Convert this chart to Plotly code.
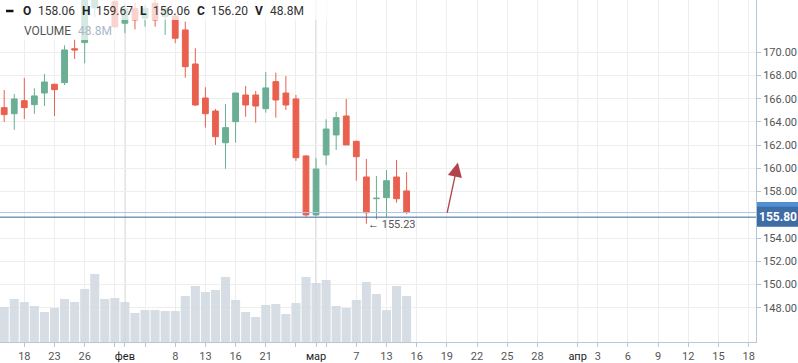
import plotly.graph_objects as go
from datetime import date

# ---------------- data ----------------
trading_days = [
    "2023-01-16", "2023-01-17", "2023-01-18", "2023-01-19", "2023-01-20",
    "2023-01-23", "2023-01-24", "2023-01-25", "2023-01-26", "2023-01-27",
    "2023-01-30", "2023-01-31", "2023-02-01", "2023-02-02", "2023-02-03",
    "2023-02-06", "2023-02-07", "2023-02-08", "2023-02-09", "2023-02-10",
    "2023-02-13", "2023-02-14", "2023-02-15", "2023-02-16", "2023-02-17",
    "2023-02-20", "2023-02-21", "2023-02-22", "2023-02-24", "2023-02-27",
    "2023-02-28", "2023-03-01", "2023-03-02", "2023-03-03", "2023-03-06",
    "2023-03-07", "2023-03-09", "2023-03-10", "2023-03-13", "2023-03-14",
    "2023-03-15",
]
opens = [165.23, 164.71, 165.83, 165.49, 166.49, 167.24, 167.38, 170.30, 170.83, 173.82,
         175.90, 174.36, 172.50, 173.79, 172.93, 174.22, 173.07, 173.13, 171.92, 168.99,
         166.06, 164.94, 162.21, 164.02, 166.32, 166.32, 165.14, 167.47, 166.49, 165.98,
         161.07, 155.99, 161.15, 162.88, 164.51, 162.33, 159.26, 157.39, 157.48, 159.26,
         158.06]
highs = [166.75, 166.41, 167.79, 166.90, 168.13, 167.30, 170.60, 171.12, 174.90, 175.60,
         176.50, 174.80, 174.20, 174.30, 174.10, 174.60, 174.00, 173.40, 172.64, 170.34,
         166.99, 165.12, 165.55, 166.49, 167.10, 166.67, 168.30, 168.24, 167.96, 166.32,
         161.15, 160.87, 164.23, 164.88, 165.98, 162.39, 160.81, 159.35, 159.86, 160.72,
         159.67]
lows = [164.00, 163.31, 164.26, 164.69, 165.37, 164.51, 167.18, 169.42, 169.05, 173.04,
        174.80, 172.07, 171.64, 171.98, 172.20, 172.20, 171.49, 170.78, 167.81, 165.37,
        163.51, 162.02, 159.97, 162.21, 164.45, 163.94, 164.80, 164.37, 165.03, 160.64,
        155.84, 155.90, 160.29, 161.58, 162.02, 158.94, 155.23, 155.62, 155.84, 157.05,
        156.06]
closes = [164.63, 165.98, 165.23, 166.24, 167.44, 166.78, 170.20, 170.20, 174.60, 175.10,
          175.00, 172.20, 173.79, 172.78, 173.79, 172.78, 173.79, 171.21, 168.76, 165.46,
          164.71, 162.73, 163.51, 166.49, 165.46, 165.37, 166.93, 165.89, 165.46, 160.92,
          155.99, 159.95, 163.39, 164.37, 162.02, 161.01, 156.18, 157.43, 158.94, 157.39,
          156.20]
volumes_m = [37.1, 45.6, 42.4, 38.2, 31.8, 36.1, 45.6, 42.4, 56.2, 72.1,
             45.6, 46.7, 42.4, 30.8, 33.9, 33.9, 32.9, 32.9, 48.8, 59.4,
             53.0, 55.2, 69.0, 44.6, 31.8, 26.5, 39.3, 40.3, 29.7, 41.4,
             69.0, 62.6, 65.8, 38.2, 36.1, 44.6, 63.7, 50.9, 33.9, 59.4,
             48.8]

x_ticks = [("2023-01-18", "18"), ("2023-01-23", "23"), ("2023-01-26", "26"),
           ("2023-01-31", ""), ("2023-02-01", "фев"), ("2023-02-03", ""),
           ("2023-02-08", "8"), ("2023-02-13", "13"), ("2023-02-16", "16"),
           ("2023-02-21", "21"), ("2023-02-27", ""), ("2023-03-01", "мар"),
           ("2023-03-02", ""), ("2023-03-07", "7"), ("2023-03-13", "13"),
           ("2023-03-16", "16"), ("2023-03-19", "19"), ("2023-03-22", "22"),
           ("2023-03-25", "25"), ("2023-03-28", "28"), ("2023-04-01", "апр"),
           ("2023-04-03", "3"), ("2023-04-06", "6"), ("2023-04-09", "9"),
           ("2023-04-12", "12"), ("2023-04-15", "15"), ("2023-04-18", "18")]
month_starts = ["2023-02-01", "2023-03-01", "2023-04-01"]
y_ticks = [148, 150, 152, 154, 158, 160, 162, 164, 166, 168, 170]
marker_price = 155.80
arrow_tail = ("2023-03-19", 156.05)
arrow_tip = ("2023-03-20", 160.5)

# ---------------- helpers ----------------
last_day = date.fromisoformat(trading_days[-1])


def to_idx(ds, frac=0.0):
    if ds in trading_days:
        return trading_days.index(ds) + frac
    return len(trading_days) - 1 + (date.fromisoformat(ds) - last_day).days + frac


idx = [to_idx(d) for d in trading_days]

PW, PH = 756.0, 342.0


def pxx(p):
    return p / PW


def pxy(p):
    return 1 - p / PH


GREEN = "#6aae93"
RED = "#e9604f"
FONT = "Roboto"

fig = go.Figure()
fig.add_trace(go.Bar(x=idx, y=volumes_m, yaxis="y2",
                     marker=dict(color="rgba(207,215,223,0.85)", line=dict(width=0)),
                     hoverinfo="skip"))
fig.add_trace(go.Candlestick(
    x=idx, open=opens, high=highs, low=lows, close=closes,
    increasing=dict(line=dict(color=GREEN, width=1), fillcolor=GREEN),
    decreasing=dict(line=dict(color=RED, width=1), fillcolor=RED),
    whiskerwidth=0))

tickvals = [to_idx(d) for d, _ in x_ticks]
ticktext = []
for d, t in x_ticks:
    if d in month_starts:
        ticktext.append("<span style='color:#222'>%s</span>" % t)
    else:
        ticktext.append(t)

shapes = []
for m in month_starts:
    shapes.append(dict(type="line", xref="x", yref="paper", x0=to_idx(m), x1=to_idx(m),
                       y0=0, y1=1, line=dict(color="#bdbdbd", width=1), layer="below"))
# price lines
shapes.append(dict(type="line", xref="paper", yref="y", x0=0, x1=1,
                   y0=closes[-1], y1=closes[-1], line=dict(color="#a9c8ea", width=1), layer="above"))
shapes.append(dict(type="line", xref="paper", yref="y", x0=0, x1=1,
                   y0=marker_price, y1=marker_price, line=dict(color="#3a6494", width=1), layer="above"))
# price label boxes
unit = 11.61
shapes.append(dict(type="rect", xref="paper", yref="y", x0=pxx(757), x1=pxx(798),
                   y0=closes[-1] - 10 / unit, y1=closes[-1] + 10.5 / unit,
                   fillcolor="#4f8fd3", line=dict(width=0), layer="above"))
shapes.append(dict(type="rect", xref="paper", yref="y", x0=pxx(757), x1=pxx(798),
                   y0=marker_price - 9.5 / unit, y1=marker_price + 10.5 / unit,
                   fillcolor="#3e6ca4", line=dict(width=0), layer="above"))
# legend background
shapes.append(dict(type="rect", xref="paper", yref="paper", x0=0, x1=pxx(343),
                   y0=pxy(20), y1=1, fillcolor="rgba(255,255,255,0.72)",
                   line=dict(width=0), layer="above"))
shapes.append(dict(type="rect", xref="paper", yref="paper", x0=0, x1=pxx(119.5),
                   y0=pxy(40), y1=pxy(20), fillcolor="rgba(255,255,255,0.72)",
                   line=dict(width=0), layer="above"))
shapes.append(dict(type="line", xref="paper", yref="paper", x0=pxx(6), x1=pxx(13.5),
                   y0=pxy(11), y1=pxy(11), line=dict(color="#111", width=2.5), layer="above"))

annotations = []
row1 = [("O", True, 23), ("%.2f" % opens[-1], False, 38), ("H", True, 81.5),
        ("%.2f" % highs[-1], False, 95.5), ("L", True, 140), ("%.2f" % lows[-1], False, 153),
        ("C", True, 196.5), ("%.2f" % closes[-1], False, 210.5), ("V", True, 255),
        ("%.1fM" % volumes_m[-1], False, 269.5)]
for t, b, p in row1:
    annotations.append(dict(xref="paper", yref="paper", x=pxx(p), y=pxy(11.5),
                            xanchor="left", yanchor="middle", showarrow=False,
                            borderpad=0, borderwidth=0,
                            text=("<b>%s</b>" % t) if b else t,
                            font=dict(family=FONT, size=12, color="#222" if b else "#333")))
annotations.append(dict(xref="paper", yref="paper", x=pxx(23), y=pxy(31),
                        xanchor="left", yanchor="middle", showarrow=False, borderpad=0,
                        text="VOLUME", font=dict(family=FONT, size=12, color="#555")))
annotations.append(dict(xref="paper", yref="paper", x=pxx(77), y=pxy(31),
                        xanchor="left", yanchor="middle", showarrow=False, borderpad=0,
                        text="%.1fM" % volumes_m[-1], font=dict(family=FONT, size=12, color="#aab8c7")))
annotations.append(dict(xref="paper", yref="y", x=pxx(777.5), y=marker_price,
                        xanchor="center", yanchor="middle", showarrow=False,
                        text="<b>%.2f</b>" % marker_price,
                        font=dict(family=FONT, size=12, color="white")))
low_i = lows.index(min(lows))
annotations.append(dict(xref="x", yref="y", x=idx[low_i], y=min(lows),
                        xanchor="left", yanchor="middle", xshift=1, yshift=-1,
                        showarrow=False, borderpad=0,
                        text="<span style='color:#333'>←</span> %.2f" % min(lows),
                        font=dict(family=FONT, size=11, color="#555")))
annotations.append(dict(xref="x", yref="y", axref="x", ayref="y",
                        x=to_idx(arrow_tip[0], 0.1), y=arrow_tip[1],
                        ax=to_idx(arrow_tail[0]), ay=arrow_tail[1],
                        text="", showarrow=True, arrowhead=2, arrowsize=2.2,
                        arrowwidth=1.3, arrowcolor="#b3424a"))

fig.update_layout(
    width=798, height=363,
    margin=dict(l=0, r=42, t=0, b=21),
    paper_bgcolor="white", plot_bgcolor="white",
    showlegend=False, bargap=0.1, boxgap=0.18,
    font=dict(family=FONT, size=11, color="#555"),
    shapes=shapes, annotations=annotations,
    xaxis=dict(range=[-0.417, 74.73], tickvals=tickvals, ticktext=ticktext,
               showgrid=True, gridcolor="#eeeeee", gridwidth=1,
               showline=True, linecolor="#b7c7d8", mirror=True,
               ticks="outside", ticklen=4, tickcolor="#b7c7d8",
               tickfont=dict(family=FONT, size=11, color="#555"),
               rangeslider=dict(visible=False), zeroline=False, fixedrange=True),
    yaxis=dict(side="right", range=[145.05, 174.5], tickvals=y_ticks,
               ticktext=["%.2f" % v for v in y_ticks],
               showgrid=True, gridcolor="#eeeeee", gridwidth=1,
               showline=True, linecolor="#b7c7d8",
               ticks="outside", ticklen=4, tickcolor="#b7c7d8",
               tickfont=dict(family=FONT, size=11, color="#555"), zeroline=False),
    yaxis2=dict(overlaying="y", range=[0, 362.8], visible=False),
)

fig.write_html("out.html", config={"displayModeBar": False},
               post_script="document.body.style.margin='0';document.body.style.overflow='hidden';")
